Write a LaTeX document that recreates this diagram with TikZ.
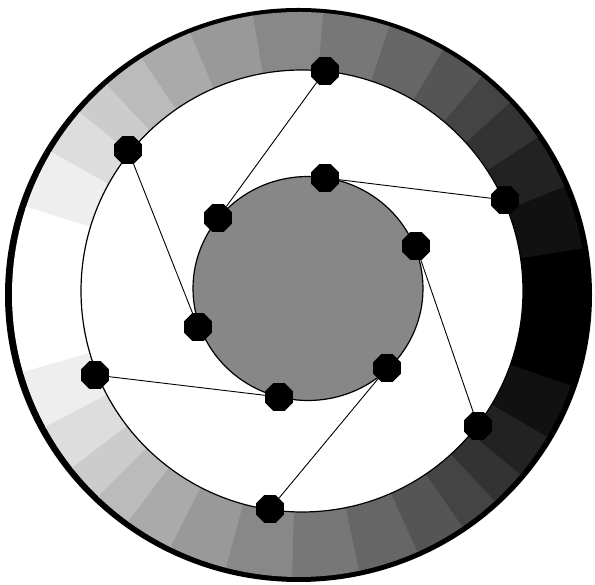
\documentclass[tikz,border=0pt]{standalone}
\usetikzlibrary{shapes.geometric}
\begin{document}
\begin{tikzpicture}[x=1pt,y=1pt,
  dot/.style={regular polygon, regular polygon sides=8, fill=black, draw=none, inner sep=0pt, minimum size=30pt},
  link/.style={draw=black, line width=0.9pt},
  rim/.style={draw=black, line width=1.2pt}]
\useasboundingbox (0,0) rectangle (595,585);
\fill[white] (0,0) rectangle (595,585);
% outer black border
\fill[black] (298.5,290) ellipse [x radius=293.5, y radius=287];
% shaded segments of the ring
\begin{scope}
  \clip (299,290.5) ellipse [x radius=287, y radius=282.5];
  \foreach \a/\b/\k in {8.53/21.93/1, 21.93/33.22/2, 33.22/42.22/3, 42.22/49.97/4,
      49.97/59.56/5, 59.56/71.48/6, 71.48/85.28/7, 85.28/99.65/8, 99.65/112.90/9,
      112.90/124.02/10, 124.02/132.84/11, 132.84/140.65/12, 140.65/150.42/13,
      150.42/162.51/14, 162.51/195.91/15, 195.91/207.74/14, 207.74/217.49/13,
      217.49/225.23/12, 225.23/233.09/11, 233.09/242.98/10, 242.98/254.94/9,
      254.94/268.40/8, 268.40/282.02/7, 282.02/294.42/6, 294.42/304.80/5,
      304.80/313.11/4, 313.11/320.55/3, 320.55/329.80/2, 329.80/341.17/1,
      341.17/368.53/0}{
    \pgfmathsetmacro\p{100-100*\k/15}
    \pgfmathsetmacro\e{\b+0.4}
    \fill[black!\p] (300,292) -- ++(\a:420) arc[start angle=\a, end angle=\e, radius=420] -- cycle;
  }
\end{scope}
% inner white disk
\filldraw[rim, fill=white] (302,294) circle [radius=221];
% central gray disk
\filldraw[rim, fill=black!47] (308,296.5) ellipse [x radius=115, y radius=112];
% dots
\node[dot] (a1) at (325,514) {};
\node[dot] (a2) at (218,367) {};
\node[dot] (b1) at (128,435) {};
\node[dot] (b2) at (198,258) {};
\node[dot] (c1) at (325,407) {};
\node[dot] (c2) at (505,385) {};
\node[dot] (d1) at (416,339) {};
\node[dot] (d2) at (478,159) {};
\node[dot] (e1) at (387,217) {};
\node[dot] (e2) at (270,76) {};
\node[dot] (f1) at (95,210) {};
\node[dot] (f2) at (279,188) {};
% connectors
\draw[link] (a1) -- (a2);
\draw[link] (b1) -- (b2);
\draw[link] (c1) -- (c2);
\draw[link] (d1) -- (d2);
\draw[link] (e1) -- (e2);
\draw[link] (f1) -- (f2);
\end{tikzpicture}
\end{document}
